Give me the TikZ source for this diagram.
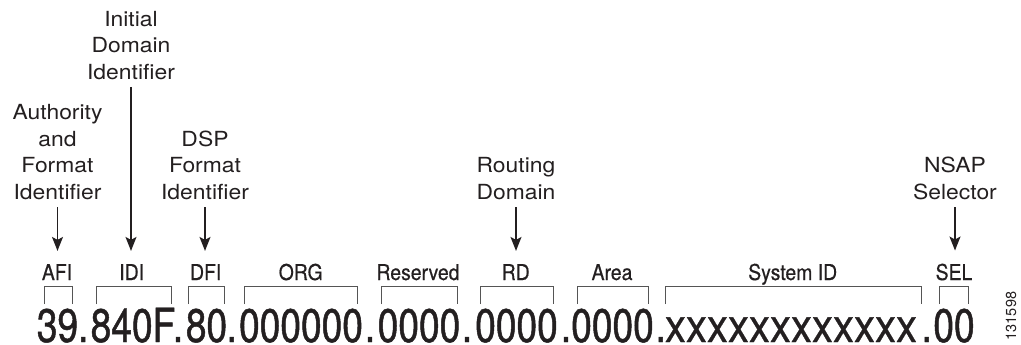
\documentclass[tikz,border=0pt]{standalone}
\usepackage{fontspec}
\setmainfont{TeX Gyre Heros}
\newfontfamily\digfont[FakeStretch=0.79,FakeBold=1]{TeX Gyre Heros}
\newfontfamily\exfont[FakeStretch=0.894,FakeBold=0.6]{TeX Gyre Heros}
\newfontfamily\lblfont[FakeStretch=0.89,FakeBold=0.5]{TeX Gyre Heros}
\newfontfamily\topfont[FakeStretch=1.1]{TeX Gyre Heros}
\usetikzlibrary{arrows.meta}
\definecolor{ink}{HTML}{231F20}
\definecolor{brk}{HTML}{555555}
\begin{document}
\begin{tikzpicture}[x=1pt,y=-1pt,
 toplbl/.style={font=\topfont\fontsize{20.8}{26.7}\selectfont, align=center, anchor=south, inner sep=0pt, text=ink},
 fieldlbl/.style={font=\lblfont\fontsize{21.8}{24}\selectfont, anchor=base, inner sep=0pt, text=ink},
 seg/.style={font=\digfont\fontsize{47}{50}\selectfont, anchor=base, inner sep=0pt, text=ink},
 xseg/.style={font=\exfont\fontsize{47}{50}\selectfont, anchor=base, inner sep=0pt, text=ink},
 arr/.style={draw=ink, line width=1.3pt, -{Stealth[length=14pt,width=11pt,inset=3pt]}, shorten <=7pt, shorten >=13pt},
 brkt/.style={draw=brk, line width=1pt}
]
\useasboundingbox (0,0) rectangle (1021,345);

% upper descriptive labels
\node[toplbl] (tafi) at (57.5,200) {Authority\\and\\Format\\Identifier};
\node[toplbl] (tidi) at (131,80) {Initial\\Domain\\Identifier};
\node[toplbl] (tdfi) at (205,200) {DSP\\Format\\Identifier};
\node[toplbl] (trd) at (516,200) {Routing\\Domain};
\node[toplbl] (tsel) at (955,200) {NSAP\\Selector};

% field labels
\node[fieldlbl] (afi) at (57,280) {AFI};
\node[fieldlbl] (idi) at (131.7,280) {IDI};
\node[fieldlbl] (dfi) at (205.7,280) {DFI};
\node[fieldlbl] (org) at (300.7,280) {ORG};
\node[fieldlbl] (rsv) at (418,280) {Reserved};
\node[fieldlbl] (rd) at (515.7,280) {RD};
\node[fieldlbl] (area) at (612,280) {Area};
\node[fieldlbl] (sysid) at (792.7,280) {System ID};
\node[fieldlbl] (sel) at (954,280) {SEL};

% arrows
\draw[arr] (tafi.south) -- (tafi.south |- afi.north);
\draw[arr] (tidi.south) -- (tidi.south |- idi.north);
\draw[arr] (tdfi.south) -- (tdfi.south |- dfi.north);
\draw[arr] (trd.south) -- (trd.south |- rd.north);
\draw[arr] (tsel.south) -- (tsel.south |- sel.north);

% brackets
\foreach \a/\b in {44/72, 96/171, 188/224, 244/357, 381/457, 480/553, 577/648, 665/921, 939/968}
  \draw[brkt] (\a,304) -- (\a,286) -- (\b,286) -- (\b,304);

% address segments
\node[seg] (s1) at (57.5,342) {39};
\node[seg] (d1) at (83.3,342) {.};
\node[seg] (s2) at (133,342) {840F};
\node[seg] (d2) at (178,342) {.};
\node[seg] (s3) at (206.5,342) {80};
\node[seg] (d3) at (231.7,342) {.};
\node[seg] (s4) at (301,342) {000000};
\node[seg] (d4) at (370,342) {.};
\node[seg] (s5) at (419,342) {0000};
\node[seg] (d5) at (467,342) {.};
\node[seg] (s6) at (516.5,342) {0000};
\node[seg] (d6) at (566,342) {.};
\node[seg] (s7) at (612.5,342) {0000};
\node[seg] (d7) at (660.7,342) {.};
\node[xseg] (s8) at (791,342) {xxxxxxxxxxxx};
\node[seg] (d8) at (926.7,342) {.};
\node[seg] (s9) at (954,342) {00};

% figure number
\node[font=\fontsize{14.5}{16}\selectfont, rotate=90, inner sep=0pt, text=ink] (fignum) at (1011,316) {131598};
\end{tikzpicture}
\end{document}
